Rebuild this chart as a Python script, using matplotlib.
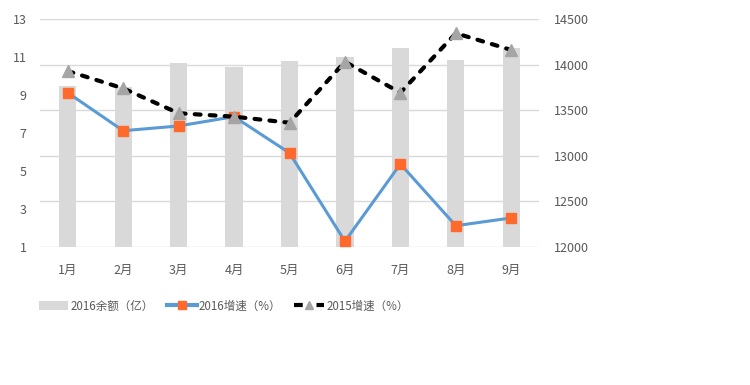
import matplotlib
matplotlib.use("Agg")
import matplotlib.pyplot as plt
from matplotlib.lines import Line2D
from matplotlib.patches import Patch

plt.rcParams['font.family'] = ['Noto Sans CJK SC', 'DejaVu Sans']

months = ["1月", "2月", "3月", "4月", "5月", "6月", "7月", "8月", "9月"]
balance_2016 = [13765, 13750, 14020, 13977, 14043, 14085, 14182, 14050, 14182]
growth_2016 = [9.12, 7.12, 7.37, 7.86, 5.95, 1.3, 5.37, 2.12, 2.53]
growth_2015 = [10.26, 9.35, 8.04, 7.86, 7.54, 10.75, 9.12, 12.25, 11.37]
left_ticks = [1, 3, 5, 7, 9, 11, 13]
right_ticks = [12000, 12500, 13000, 13500, 14000, 14500]

fig = plt.figure(figsize=(7.5, 3.85), dpi=100)
ax2 = fig.add_axes([40/750, 1-247/385, (539-40)/750, (247-19)/385])
ax = ax2.twinx()

x = list(range(len(months)))
tc = "#595959"
fs = 9

# bars on the balance axis
ax2.bar(x, [b - 12000 for b in balance_2016], bottom=12000, width=0.31,
        color="#D9D9D9", zorder=2)
ax2.set_ylim(12000, 14500)
ax2.set_yticks(right_ticks)
ax2.grid(axis='y', color="#D9D9D9", linewidth=1, zorder=0)
ax2.set_axisbelow(True)
ax2.yaxis.tick_right()
ax2.tick_params(axis='y', length=0, labelsize=fs, labelcolor=tc, pad=11)

# lines on growth axis
ax.plot(x, growth_2016, color="#5B9BD5", linewidth=2.2, marker='s', markersize=7.2,
        markerfacecolor="#FF6A2C", markeredgecolor="#FF6A2C", zorder=3)
ax.plot(x, growth_2015, color="black", linewidth=3.0, linestyle=(0, (1.4, 2.2)),
        dash_capstyle='round', marker='^', markersize=8,
        markerfacecolor="#A5A5A5", markeredgecolor="#A5A5A5", zorder=4)
ax.set_ylim(1, 13)
ax.set_yticks(left_ticks)
ax.yaxis.tick_left()
ax.tick_params(axis='y', length=0, labelsize=fs, labelcolor=tc, pad=9.5)

ax2.set_xlim(-0.5, len(months) - 0.5)
ax2.set_xticks(x)
ax2.set_xticklabels(months)
ax2.tick_params(axis='x', length=0, labelsize=fs, labelcolor=tc, pad=12)

for a in (ax, ax2):
    for s in a.spines.values():
        s.set_visible(False)

handles = [
    Patch(facecolor="#D9D9D9", edgecolor="none"),
    Line2D([], [], color="#5B9BD5", linewidth=3, marker='s', markersize=6,
           markerfacecolor="#FF6A2C", markeredgecolor="#FF6A2C"),
    Line2D([], [], color="black", linewidth=3, linestyle=(0, (2.1, 3.3)),
           dash_capstyle='butt',
           marker='^', markersize=6, markerfacecolor="#A5A5A5", markeredgecolor="#A5A5A5"),
]
labels = ["2016余额（亿）", "2016增速（%）", "2015增速（%）"]
lfs = 8.3
leg = fig.legend(handles, labels, loc='center left', bbox_to_anchor=(0.0375, 1-306/385),
                 ncol=3, frameon=False, fontsize=lfs, handlelength=2.6, handleheight=0.75,
                 handletextpad=0.2, columnspacing=1.1, labelcolor=tc)

fig.savefig("out.png", dpi=100)
